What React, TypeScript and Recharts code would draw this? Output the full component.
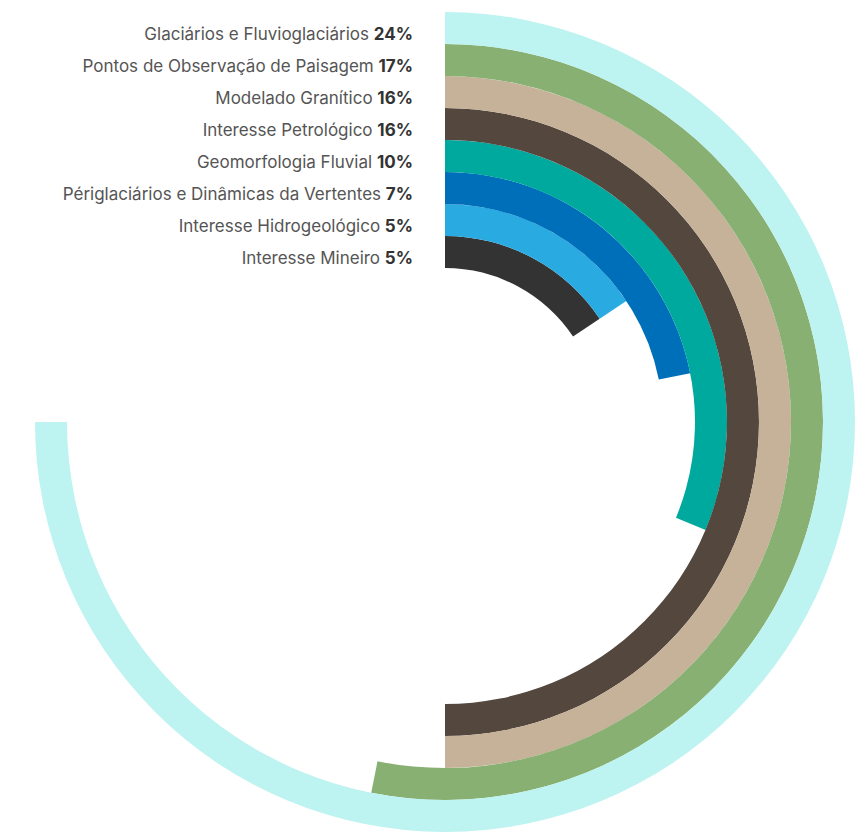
import React from "react";
import { RadialBarChart, RadialBar, PolarAngleAxis, PolarRadiusAxis, Cell } from "recharts";

// listed top (outer ring) to bottom (inner ring), as in the legend
const categories = [
  "Glaciários e Fluvioglaciários",
  "Pontos de Observação de Paisagem",
  "Modelado Granítico",
  "Interesse Petrológico",
  "Geomorfologia Fluvial",
  "Périglaciários e Dinâmicas da Vertentes",
  "Interesse Hidrogeológico",
  "Interesse Mineiro",
];
const shares = [24, 17, 16, 16, 10, 7, 5, 5];
const colors = ["#bdf3f0", "#87b072", "#c6b298", "#54473e", "#00a99d", "#006fba", "#29abe2", "#333333"];

// recharts puts the first row on the innermost ring
const data = categories
  .map((name, i) => ({ name, value: shares[i], fill: colors[i] }))
  .reverse();

const FONT = "Inter, 'Noto Sans', sans-serif";

function RingLabel(props: any) {
  const vb = props.viewBox || props;
  const { cx, cy, innerRadius, outerRadius } = vb;
  const row = data[props.index];
  if (!row || cx == null) return null;
  const mid = (innerRadius + outerRadius) / 2;
  return (
    <text
      x={cx - 32}
      y={cy - mid + 12}
      textAnchor="end"
      fontFamily={FONT}
      fontSize={17}
      fill="#555555"
    >
      {row.name}{" "}
      <tspan fontWeight={700} fill="#333333">{row.value}%</tspan>
    </text>
  );
}

export default function App() {
  return (
    <div style={{ position: "absolute", left: 0, top: 0, width: 855, height: 832, background: "#fff" }}>
      <RadialBarChart
        width={855}
        height={832}
        cx={445}
        cy={422}
        innerRadius={154}
        outerRadius={410}
        startAngle={90}
        endAngle={-180}
        barCategoryGap={0}
        data={data}
        margin={{ top: 0, right: 0, bottom: 0, left: 0 }}
      >
        <PolarAngleAxis type="number" domain={[0, 24]} tick={false} axisLine={false} />
        <PolarRadiusAxis type="category" dataKey="name" tick={false} axisLine={false} tickLine={false} />
        <RadialBar dataKey="value" isAnimationActive={false} label={<RingLabel />}>
          {data.map((d, i) => (
            <Cell key={i} fill={d.fill} />
          ))}
        </RadialBar>
      </RadialBarChart>
    </div>
  );
}
